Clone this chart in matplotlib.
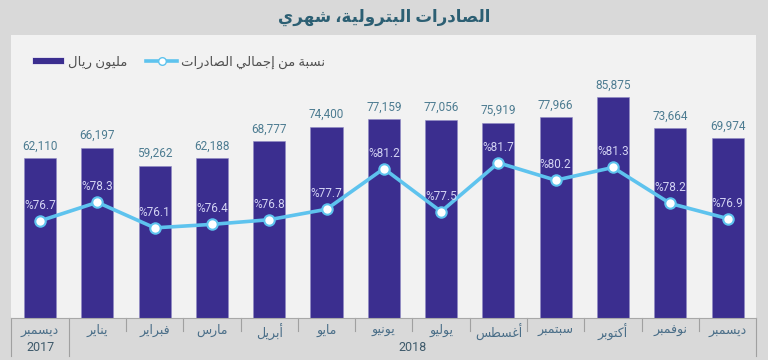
import matplotlib
matplotlib.use("Agg")
import matplotlib.pyplot as plt
import matplotlib.transforms as mtransforms
from matplotlib.lines import Line2D
from matplotlib.patches import Patch

# ---------------- data ----------------
months = ["ديسمبر", "يناير", "فبراير", "مارس", "أبريل", "مايو", "يونيو",
          "يوليو", "أغسطس", "سبتمبر", "أكتوبر", "نوفمبر", "ديسمبر"]
years = ["2017", "2018"]
year_span = [(0, 0), (1, 12)]
exports = [62110, 66197, 59262, 62188, 68777, 74400, 77159,
           77056, 75919, 77966, 85875, 73664, 69974]
share = [76.7, 78.3, 76.1, 76.4, 76.8, 77.7, 81.2,
         77.5, 81.7, 80.2, 81.3, 78.2, 76.9]
title = "الصادرات البترولية، شهري"
legend_bar = "مليون ريال"
legend_line = "نسبة من إجمالي الصادرات"

# ------------- minimal Arabic shaping (presentation forms) -------------
FORMS = {
    '\u0627': (0xFE8D, 0xFE8E, None, None),
    '\u0623': (0xFE83, 0xFE84, None, None),
    '\u0625': (0xFE87, 0xFE88, None, None),
    '\u0628': (0xFE8F, 0xFE90, 0xFE91, 0xFE92),
    '\u0629': (0xFE93, 0xFE94, None, None),
    '\u062A': (0xFE95, 0xFE96, 0xFE97, 0xFE98),
    '\u062C': (0xFE9D, 0xFE9E, 0xFE9F, 0xFEA0),
    '\u062F': (0xFEA9, 0xFEAA, None, None),
    '\u0631': (0xFEAD, 0xFEAE, None, None),
    '\u0633': (0xFEB1, 0xFEB2, 0xFEB3, 0xFEB4),
    '\u0634': (0xFEB5, 0xFEB6, 0xFEB7, 0xFEB8),
    '\u0635': (0xFEB9, 0xFEBA, 0xFEBB, 0xFEBC),
    '\u0637': (0xFEC1, 0xFEC2, 0xFEC3, 0xFEC4),
    '\u063A': (0xFECD, 0xFECE, 0xFECF, 0xFED0),
    '\u0641': (0xFED1, 0xFED2, 0xFED3, 0xFED4),
    '\u0643': (0xFED9, 0xFEDA, 0xFEDB, 0xFEDC),
    '\u0644': (0xFEDD, 0xFEDE, 0xFEDF, 0xFEE0),
    '\u0645': (0xFEE1, 0xFEE2, 0xFEE3, 0xFEE4),
    '\u0646': (0xFEE5, 0xFEE6, 0xFEE7, 0xFEE8),
    '\u0647': (0xFEE9, 0xFEEA, 0xFEEB, 0xFEEC),
    '\u0648': (0xFEED, 0xFEEE, None, None),
    '\u064A': (0xFEF1, 0xFEF2, 0xFEF3, 0xFEF4),
}


def ar(s):
    out = []
    n = len(s)
    for i, c in enumerate(s):
        if c not in FORMS:
            out.append(c)
            continue
        prev = s[i - 1] if i > 0 else ''
        nxt = s[i + 1] if i < n - 1 else ''
        p = prev in FORMS and FORMS[prev][2] is not None
        q = FORMS[c][2] is not None and nxt in FORMS
        iso, fin, ini, med = FORMS[c]
        if p and q:
            ch = med
        elif p:
            ch = fin
        elif q:
            ch = ini
        else:
            ch = iso
        out.append(chr(ch))
    return ''.join(out)[::-1]


plt.rcParams['font.family'] = ['Roboto', 'DejaVu Sans']

BAR = "#3b2e8f"
LINE = "#5ec3ee"
BG = "#d9d9d9"
PANEL = "#f2f2f2"

fig = plt.figure(figsize=(7.68, 3.6), dpi=100, facecolor=BG)
ax = fig.add_axes([11.4 / 768, 42 / 360, 744.8 / 768, 283 / 360])
ax.set_facecolor(PANEL)
x = list(range(len(months)))

ax.bar(x, exports, width=0.56, color=BAR, edgecolor="#8f8ac4", linewidth=0.4, zorder=2)
ax.set_xlim(-0.5, len(months) - 0.5)
ax.set_ylim(0, 110000)
ax.set_yticks([])
for s in ["top", "right", "left"]:
    ax.spines[s].set_visible(False)
ax.spines["bottom"].set_color("#a8a8a8")

for xi, v in zip(x, exports):
    ax.annotate(f"{v:,}", (xi, v), xytext=(0, 4), textcoords="offset points",
                ha="center", va="bottom", fontsize=8.5, color="#4d7c91")

ax.set_xticks(x)
ax.set_xticklabels([ar(m) for m in months], fontsize=9, color="#4a6e88")
ax.tick_params(axis="x", length=0, pad=4)

trans = mtransforms.blended_transform_factory(ax.transData, ax.transAxes)
# category separators
for i in range(len(months) + 1):
    xs = i - 0.5
    full = i in (0, 1, len(months))
    ax.plot([xs, xs], [0, -0.135 if full else -0.045], transform=trans,
            color="#a0a0a0", lw=0.8, clip_on=False)
for yr, (a, b) in zip(years, year_span):
    ax.text((a + b) / 2, -0.105, yr, transform=trans, ha="center", va="center",
            fontsize=9, color="#3e5a6b")

ax2 = ax.twinx()
ax2.set_ylim(68.34, 92.7)
ax2.set_yticks([])
for s in ax2.spines.values():
    s.set_visible(False)
ax2.plot(x, share, color=LINE, lw=2.6, marker="o", markersize=7.5,
         markerfacecolor="white", markeredgecolor=LINE, markeredgewidth=1.5, zorder=3)
for xi, v in zip(x, share):
    ax2.annotate(f"%{v}", (xi, v), xytext=(0, 6.5), textcoords="offset points",
                 ha="center", va="bottom", fontsize=8.5, color="#d4d4f4")

handles = [Patch(facecolor=BAR, edgecolor="white", linewidth=0.5),
           Line2D([], [], color=LINE, lw=2.6, marker="o", markersize=5.5,
                  markerfacecolor="white", markeredgecolor=LINE)]
ax2.legend(handles, [ar(legend_bar), ar(legend_line)], loc="upper left", ncol=2,
           frameon=False, fontsize=9.5, labelcolor="#505050", handlelength=2.4,
           handleheight=0.5, columnspacing=1.4, handletextpad=0.3,
           bbox_to_anchor=(0.012, 0.97))

fig.text(0.5, 1 - 17 / 360, ar(title), ha="center", va="center", fontsize=12,
         fontweight="bold", color="#2c5f73")

fig.savefig("out.png", dpi=100, facecolor=BG)
